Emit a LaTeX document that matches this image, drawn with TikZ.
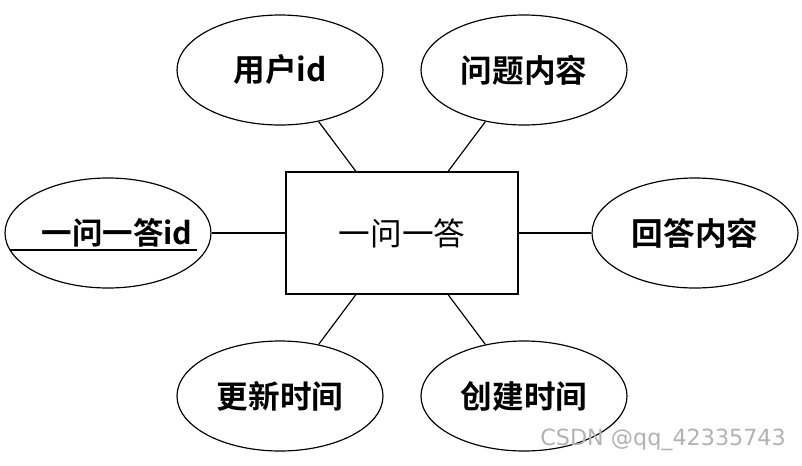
\documentclass[tikz,border=0pt]{standalone}
\usepackage{fontspec}
\newfontfamily\cjk{Noto Sans CJK SC}
\newfontfamily\cjkb{Noto Sans CJK SC Bold}
\usetikzlibrary{shapes.geometric}
\begin{document}
\begin{tikzpicture}[x=0.03cm,y=-0.03cm,
  attr/.style={ellipse,draw,line width=1pt,minimum width=206*0.03cm,minimum height=110*0.03cm,inner sep=0pt,font=\cjkb\fontsize{27}{30}\selectfont},
  ent/.style={rectangle,draw,line width=1pt,minimum width=232*0.03cm,minimum height=122*0.03cm,font=\cjk\fontsize{27}{30}\selectfont},
  link/.style={line width=1pt}]
\useasboundingbox (0,0) rectangle (802,465);
\node[ent] (e) at (402,233) {一问一答};
\node[attr] (a1) at (280,70) {用户id};
\node[attr] (a2) at (524,70) {问题内容};
\node[attr] (a3) at (108,233) {};
\node[font=\cjkb\fontsize{26}{30}\selectfont] (t3) at (117,233) {一问一答id};
\node[attr] (a4) at (695,233) {回答内容};
\node[attr] (a5) at (280,396) {更新时间};
\node[attr] (a6) at (524,396) {创建时间};
\coordinate (u1) at (10,250);
\coordinate (u2) at (197,250);
\draw[link] (u1) -- (u2);
\foreach \a in {a1,a2,a3,a4,a5,a6} \draw[link] (e) -- (\a);
\node[text=gray!60,font=\fontspec{DejaVu Sans}\fontsize{19}{22}\selectfont,anchor=east] (wm) at (790,440) {CSDN @qq\_42335743};
\end{tikzpicture}
\end{document}
